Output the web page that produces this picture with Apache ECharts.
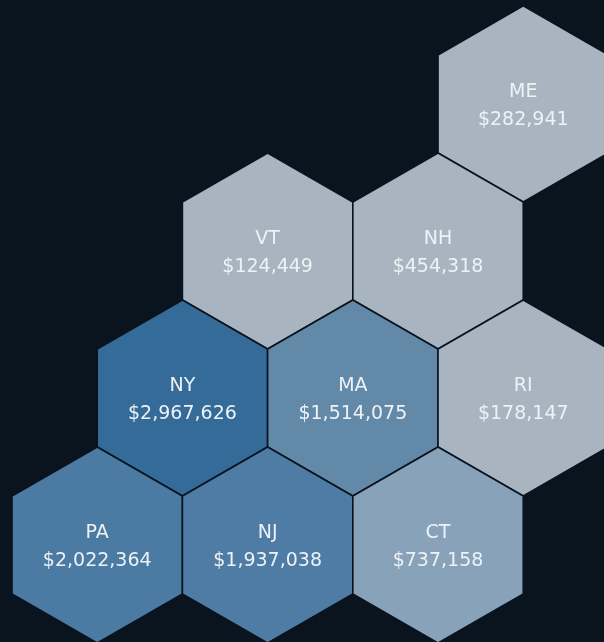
<!DOCTYPE html>
<html>
<head>
<meta charset="utf-8">
<style>
  html, body { margin: 0; padding: 0; background: #09141f; }
  #HexMap { width: 604px; height: 642px; }
</style>
<script src="https://cdn.jsdelivr.net/npm/echarts@6/dist/echarts.min.js"></script>
</head>
<body>
<div id="HexMap"></div>
<script>
const states = ["ME", "VT", "NH", "NY", "MA", "RI", "PA", "NJ", "CT"];
const sales = [282941, 124449, 454318, 2967626, 1514075, 178147, 2022364, 1937038, 737158];
// half-hexagon columns, rows counted from the bottom
const cols = [5, 2, 4, 1, 3, 5, 0, 2, 4];
const rows = [3, 2, 2, 1, 1, 1, 0, 0, 0];

const chart = echarts.init(document.getElementById("HexMap"), null, { renderer: "canvas" });

function money(v) {
  return "$" + echarts.format.addCommas(v);
}

function renderHex(params, api) {
  const center = api.coord([api.value(0), api.value(1)]);
  const size = api.size([1, 1]);
  const halfW = size[0];
  const r = size[1] / 1.5;
  const points = [
    [center[0], center[1] - r],
    [center[0] + halfW, center[1] - r / 2],
    [center[0] + halfW, center[1] + r / 2],
    [center[0], center[1] + r],
    [center[0] - halfW, center[1] + r / 2],
    [center[0] - halfW, center[1] - r / 2],
  ];
  return {
    type: "group",
    children: [
      {
        type: "polygon",
        shape: { points: points },
        style: { fill: api.visual("color"), stroke: "#09141f", lineWidth: 1.6 },
      },
      {
        type: "text",
        style: {
          x: center[0],
          y: center[1] + 2.5,
          text: states[params.dataIndex] + "\n" + money(api.value(2)),
          fill: "#edf2f6",
          font: '19px "DejaVu Sans"',
          lineHeight: 28,
          align: "center",
          verticalAlign: "middle",
        },
      },
    ],
  };
}

chart.setOption({
  backgroundColor: "#09141f",
  animation: false,
  grid: { left: 0, right: 0, top: 0, bottom: 0 },
  xAxis: { type: "value", min: -1.141, max: 5.948, show: false },
  yAxis: { type: "value", min: -0.66, max: 3.707, show: false },
  visualMap: {
    show: false,
    type: "continuous",
    dimension: 2,
    seriesIndex: 0,
    min: 0,
    max: 2967626,
    inRange: {
      color: ["#a8b5c1", "#a8b5c1", "#a8b5c1", "#87a2ba", "#7b9ab5", "#7092af", "#648aa9",
        "#5983a6", "#4c7ba3", "#4677a0", "#41739d", "#3b6f9a", "#346b98"],
    },
  },
  series: [
    {
      type: "custom",
      renderItem: renderHex,
      encode: { x: 0, y: 1 },
      data: states.map((s, i) => [cols[i], rows[i], sales[i]]),
    },
  ],
});
</script>
</body>
</html>
